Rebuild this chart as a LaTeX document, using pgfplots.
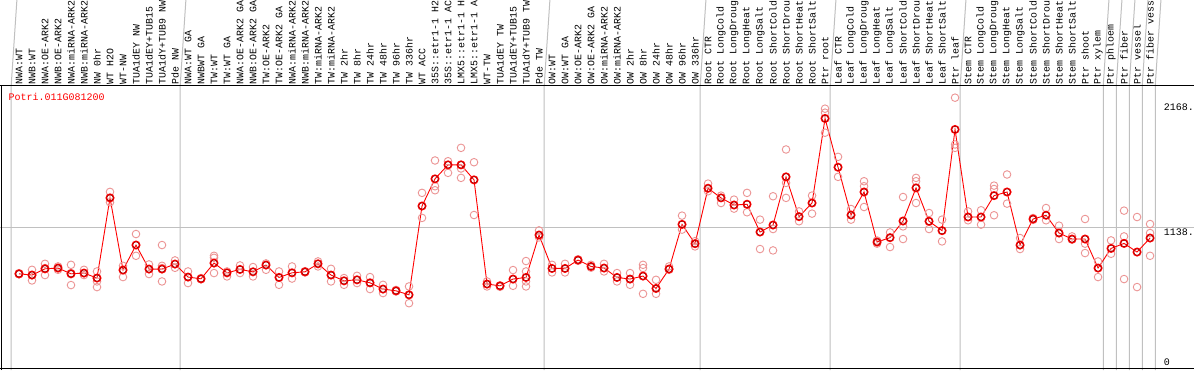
\documentclass[border=0pt]{standalone}
\usepackage{fontspec}
\setmainfont{Liberation Mono}
\usepackage{pgfplots}
\pgfplotsset{compat=1.18}
\usepackage{pgfplotstable}
\definecolor{rep}{RGB}{236,148,148}
\definecolor{grd}{RGB}{192,192,192}
\definecolor{ttl}{RGB}{255,0,0}
\definecolor{dred}{RGB}{140,0,0}

\pgfplotstableread{
x y
1 769
2 759
3 809
4 815
5 769
6 775
7 735
8 1376
9 799
10 999
11 807
12 807
13 847
14 743
15 729
16 855
17 777
18 804
19 785
20 839
21 740
22 777
23 785
24 849
25 759
26 713
27 721
28 697
29 647
30 633
31 601
32 1311
33 1528
34 1640
35 1640
36 1520
37 687
38 673
39 727
40 740
41 1079
42 812
43 812
44 879
45 828
46 815
47 740
48 727
49 751
50 652
51 807
52 1164
53 1010
54 1453
55 1376
56 1319
57 1325
58 1103
59 1159
60 1544
61 1226
62 1335
63 2011
64 1621
65 1239
66 1423
67 1023
68 1058
69 1191
70 1456
71 1189
72 1114
73 1923
74 1223
75 1223
76 1394
77 1423
78 999
79 1207
80 1237
81 1095
82 1047
83 1047
84 815
85 972
86 1012
87 943
88 1055
}\means

\pgfplotstableread{
x y
1 765
1 774
2 801
2 716
2 760
3 849
3 759
3 815
4 828
4 801
5 841
5 679
5 775
6 801
6 759
7 788
7 708
7 663
8 1424
8 1341
9 833
9 743
10 1087
10 913
11 844
11 767
12 999
12 833
12 815
12 708
13 876
13 817
14 788
14 695
15 735
15 725
16 913
16 897
16 775
17 788
17 748
18 836
18 775
19 823
19 748
20 852
20 801
21 788
21 681
22 828
22 731
23 790
23 780
24 868
24 828
25 809
25 708
26 735
26 681
27 753
27 695
28 743
28 647
29 681
29 615
30 640
30 628
31 668
31 534
32 1416
32 1216
33 1675
33 1469
33 1437
34 1669
34 1576
35 1776
35 1611
35 1536
36 1661
36 1239
37 708
37 668
38 675
38 665
39 799
39 673
40 871
40 788
40 708
40 668
41 1116
41 1060
42 841
42 780
43 849
43 780
44 885
44 873
45 841
45 818
46 849
46 788
47 775
47 708
48 775
48 681
49 841
49 815
49 609
50 721
50 609
51 828
51 801
52 1234
52 1122
53 988
53 1030
54 1490
54 1429
55 1394
55 1335
56 1362
56 1290
57 1416
57 1261
58 1202
58 967
59 1389
59 1127
59 956
60 1763
60 1496
60 1376
61 1268
61 1189
62 1394
62 1250
63 2089
63 2057
63 1897
64 1704
64 1544
65 1287
65 1202
66 1509
66 1469
66 1303
67 1010
67 1035
68 1100
68 983
69 1383
69 1148
69 1047
70 1536
70 1509
70 1335
71 1255
71 1127
72 1202
72 1028
73 2177
73 1803
73 1776
74 1268
74 1197
75 1277
75 1162
76 1474
76 1447
76 1237
77 1563
77 1330
78 1055
78 967
79 1215
79 1200
80 1295
80 1197
81 1154
81 1047
82 1068
82 1042
83 1207
83 1010
83 935
84 868
84 743
85 1036
85 929
86 1274
86 1068
86 727
87 1223
87 663
88 1167
88 1095
88 913
}\reps

\begin{document}
\begin{tikzpicture}
\useasboundingbox (0,0) rectangle (1194pt,370pt);
\clip (0,0) rectangle (1194pt,370pt);
\fill[white] (0,0) rectangle (1194pt,370pt);
\begin{axis}[
  at={(0,0)}, anchor=south west, scale only axis,
  width=1194pt, height=284.7pt,
  xmin=-0.4615, xmax=91.385, ymin=0, ymax=2276,
  axis line style={draw=none},
  xtick={1,...,88},
  xticklabels={NWA:WT,NWB:WT,NWA:OE-ARK2,NWB:OE-ARK2,NWA:miRNA-ARK2,NWB:miRNA-ARK2,NW 0hr,WT H2O,WT-NW,TUA1dEY NW,TUA1dEY+TUB15,TUA1dY+TUB9 NW,Pde NW,
    NWA:WT GA,NWBWT GA,TW:WT,TW:WT GA,NWA:OE-ARK2 GA,NWB:OE-ARK2 GA,TW:OE-ARK2,TW:OE-ARK2 GA,NWA:miRNA-ARK2,NWB:miRNA-ARK2,TW:miRNA-ARK2,TW:miRNA-ARK2,TW 2hr,TW 8hr,TW 24hr,TW 48hr,TW 96hr,TW 336hr,WT ACC,35S::etr1-1 H2,35S::etr1-1 AC,LMX5::etr1-1 H,LMX5::etr1-1 A,WT-TW,TUA1dEY TW,TUA1dEY+TUB15,TUA1dY+TUB9 TW,Pde TW,
    OW:WT,OW:WT GA,OW:OE-ARK2,OW:OE-ARK2 GA,OW:miRNA-ARK2,OW:miRNA-ARK2,OW 2hr,OW 8hr,OW 24hr,OW 48hr,OW 96hr,OW 336hr,
    Root CTR,Root LongCold,Root LongDroug,Root LongHeat,Root LongSalt,Root ShortCold,Root ShortDrou,Root ShortHeat,Root ShortSalt,Ptr root,
    Leaf CTR,Leaf LongCold,Leaf LongDroug,Leaf LongHeat,Leaf LongSalt,Leaf ShortCold,Leaf ShortDrou,Leaf ShortHeat,Leaf ShortSalt,Ptr leaf,
    Stem CTR,Stem LongCold,Stem LongDroug,Stem LongHeat,Stem LongSalt,Stem ShortCold,Stem ShortDrou,Stem ShortHeat,Stem ShortSalt,Ptr shoot,Ptr xylem,Ptr phloem,Ptr fiber,Ptr vessel,Ptr fiber vess},
  xticklabel pos=upper,
  xticklabel style={rotate=90, anchor=west, inner sep=1pt, font=\fontsize{9.9}{10}\selectfont},
  major tick length=0pt,
  ytick={1138}, yticklabels={},
  ymajorgrids, major grid style={grd, line width=1pt},
  clip=false,
]
\pgfplotsinvokeforeach{0.4,13.4,41.4,53.4,63.4,73.4,84.4,85.4,86.4,87.4,88.4}{
  \draw[grd, line width=1pt] (axis cs:#1,0) -- (axis cs:#1,2276) -- ++(0,90pt);
}
\draw[black, line width=1pt] (axis cs:-0.33,0) -- (axis cs:-0.33,2276);
\draw[black, line width=1pt] (axis cs:-0.4615,2276) -- (axis cs:91.385,2276);
\draw[black, line width=1pt] (axis cs:-0.4615,9) -- (axis cs:91.385,9);
\addplot[only marks, mark=o, mark size=3.8pt, color=rep, line width=0.9pt] table {\reps};
\addplot[red, line width=0.9pt, mark=o, mark size=3.8pt, mark options={line width=1.4pt}] table {\means};
\addplot[only marks, mark=o, mark size=3.2pt, mark options={draw=dred, line width=0.45pt}] table {\means};
\node[anchor=west, text=ttl, font=\fontsize{10}{10}\selectfont, inner sep=0pt] at (axis cs:0.19,2185) {Potri.011G081200};
\node[anchor=west, font=\fontsize{10}{10}\selectfont, fill=white, inner sep=0.5pt] at (axis cs:89.0,2102) {2168.};
\node[anchor=west, font=\fontsize{10}{10}\selectfont, fill=white, inner sep=0.5pt] at (axis cs:89.0,1098) {1138.};
\node[anchor=west, font=\fontsize{10}{10}\selectfont, inner sep=0.5pt] at (axis cs:89.0,64) {0};
\end{axis}
\end{tikzpicture}
\end{document}
